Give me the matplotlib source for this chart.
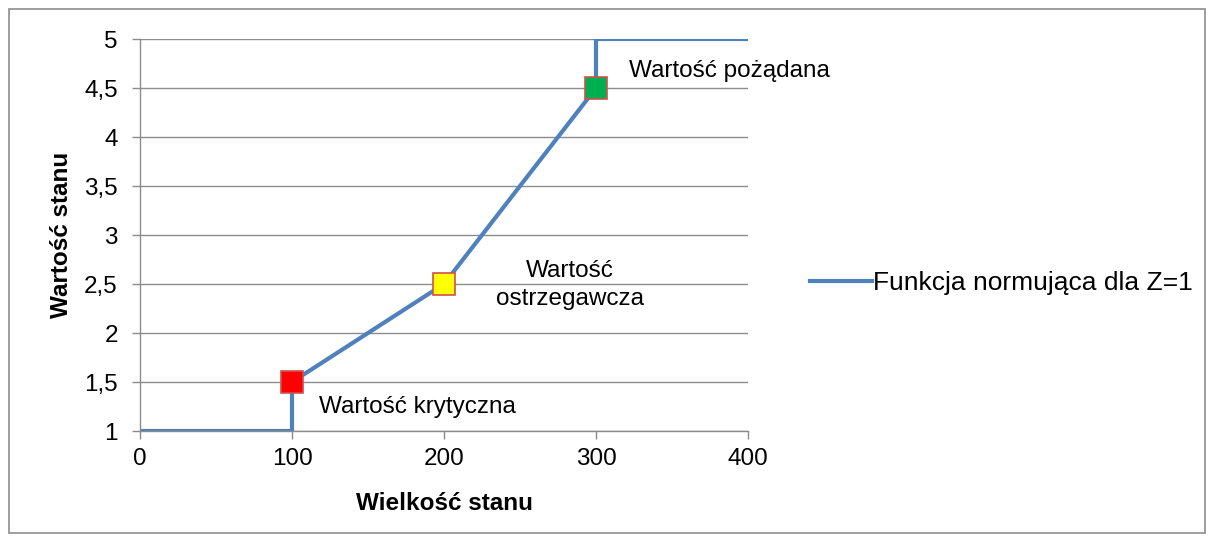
import matplotlib.pyplot as plt
from matplotlib.patches import Rectangle

plt.rcParams['font.family'] = ['Liberation Sans', 'DejaVu Sans']

# data
x_vals = [0, 100, 100, 200, 300, 300, 400]
y_vals = [1, 1, 1.5, 2.5, 4.5, 5, 5]
point_x = [100, 200, 300]
point_y = [1.5, 2.5, 4.5]
point_colors = ['#FF0000', '#FFFF00', '#00B050']
point_labels = ['Wartość krytyczna', 'Wartość\nostrzegawcza', 'Wartość pożądana']
y_ticks = [1, 1.5, 2, 2.5, 3, 3.5, 4, 4.5, 5]
x_ticks = [0, 100, 200, 300, 400]

fs = 17.5
fig = plt.figure(figsize=(12.14, 5.42), dpi=100)
ax = fig.add_axes([140 / 1214, 1 - 431 / 542, 608 / 1214, 392 / 542])

grey = '#8C8C8C'
for y in y_ticks:
    ax.axhline(y, color=grey, lw=1.0, zorder=1)

ax.plot(x_vals, y_vals, color='#4F81BD', lw=3, solid_joinstyle='miter',
        label='Funkcja normująca dla Z=1', zorder=2)
for px, py, c in zip(point_x, point_y, point_colors):
    ax.plot(px, py, marker='s', ms=16, mfc=c, mec='#D0504D', mew=1.2, zorder=3)

ax.set_xlim(0, 400)
ax.set_ylim(1, 5)
ax.set_xticks(x_ticks)
ax.set_yticks(y_ticks)
ax.set_yticklabels([f'{v:g}'.replace('.', ',') for v in y_ticks])
for s in ['top', 'right']:
    ax.spines[s].set_visible(False)
for s in ['left', 'bottom']:
    ax.spines[s].set_color(grey)
    ax.spines[s].set_linewidth(1.0)
ax.tick_params(colors=grey, labelcolor='black', labelsize=fs, length=6, width=1.0, direction='out')
ax.tick_params(axis='y', pad=10)
ax.tick_params(axis='x', pad=6)

ax.set_xlabel('Wielkość stanu', fontsize=fs, fontweight='bold', labelpad=16)
ax.set_ylabel('Wartość stanu', fontsize=fs, fontweight='bold', labelpad=8)

# point annotations
ax.text(point_x[0] + 18, point_y[0] - 0.25, point_labels[0], fontsize=fs, va='center', ha='left')
ax.text(point_x[1] + 83, point_y[1] - 0.01, point_labels[1], fontsize=fs, va='center',
        ha='center', multialignment='center', linespacing=1.3)
ax.text(point_x[2] + 22, point_y[2] + 0.17, point_labels[2], fontsize=fs, va='center', ha='left')

ax.legend(loc='center left', bbox_to_anchor=(1.102, 0.378), frameon=False, fontsize=19,
          handlelength=2.35, handletextpad=0.05, borderaxespad=0, borderpad=0)

# outer border
fig.patches.append(Rectangle((9 / 1214, 9 / 542), 1196 / 1214, 524 / 542, transform=fig.transFigure,
                             fill=False, edgecolor=grey, lw=1.2))

fig.savefig('out.png', dpi=100)
